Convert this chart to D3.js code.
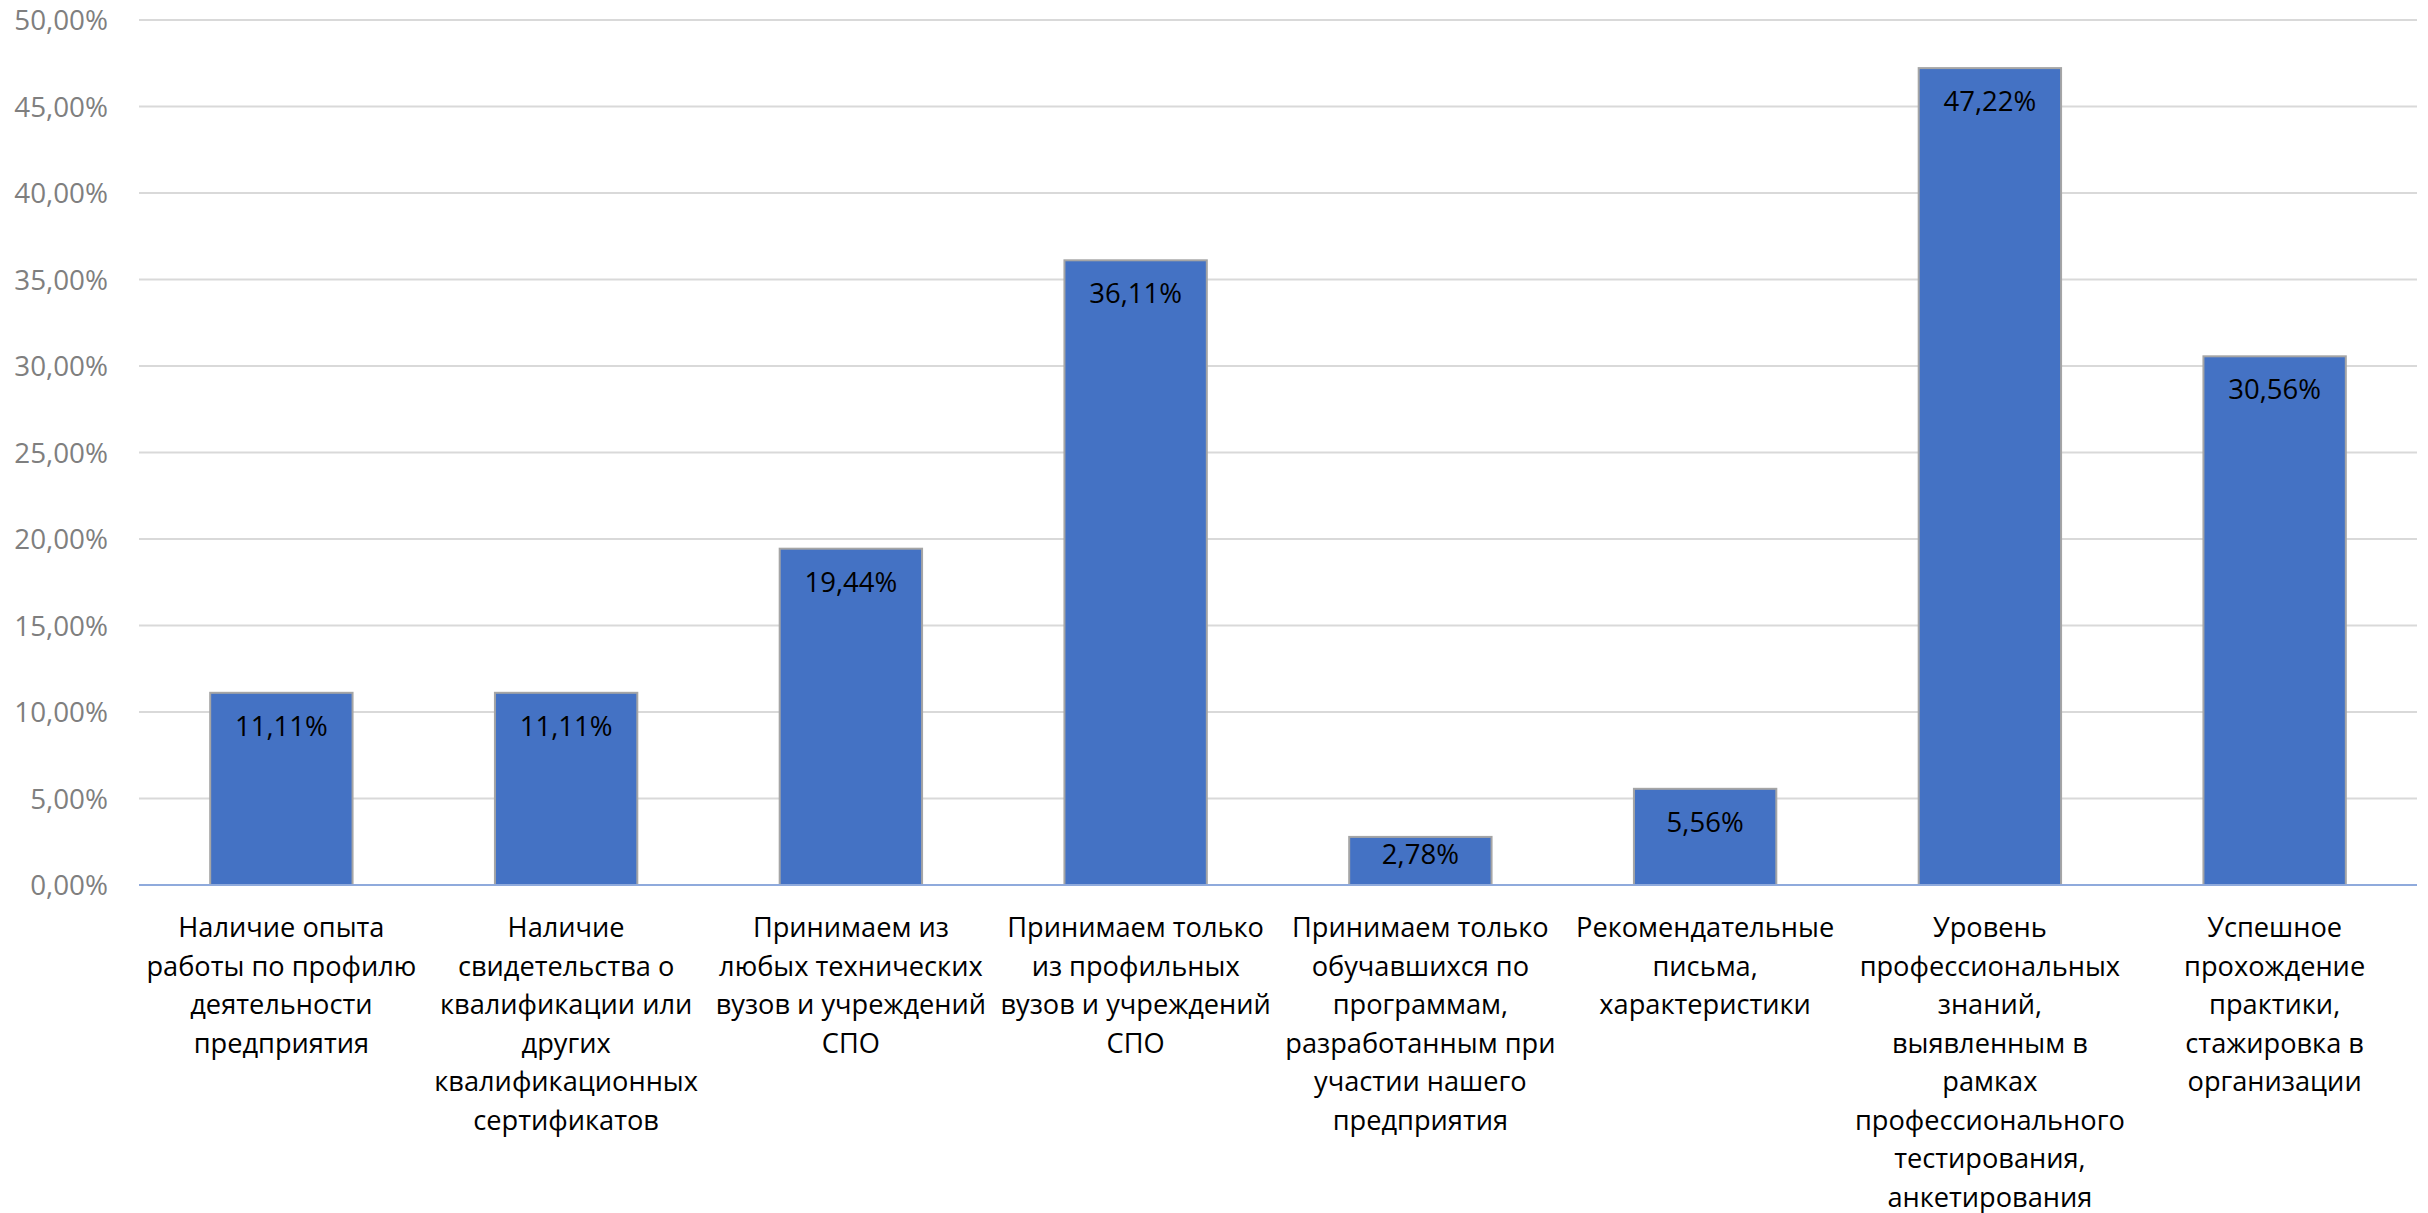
<!DOCTYPE html>
<html><head><meta charset="utf-8">
<script src="https://cdn.jsdelivr.net/npm/d3@7"></script>
<style>html,body{margin:0;padding:0;background:#fff;overflow:hidden}</style>
</head><body>
<svg id="c" width="2428" height="1213"></svg>
<script>
const categories = [
  ["Наличие опыта","работы по профилю","деятельности","предприятия"],
  ["Наличие","свидетельства о","квалификации или","других","квалификационных","сертификатов"],
  ["Принимаем из","любых технических","вузов и учреждений","СПО"],
  ["Принимаем только","из профильных","вузов и учреждений","СПО"],
  ["Принимаем только","обучавшихся по","программам,","разработанным при","участии нашего","предприятия"],
  ["Рекомендательные","письма,","характеристики"],
  ["Уровень","профессиональных","знаний,","выявленным в","рамках","профессионального","тестирования,","анкетирования"],
  ["Успешное","прохождение","практики,","стажировка в","организации"]
];
const values = [11.11, 11.11, 19.44, 36.11, 2.78, 5.56, 47.22, 30.56];
const yTicks = [0, 5, 10, 15, 20, 25, 30, 35, 40, 45, 50];

const font = "'Open Sans', sans-serif";
const fmt = v => v.toFixed(2).replace(".", ",") + "%";
const svg = d3.select("#c");
const pLeft = 139, pRight = 2417, pTop = 20, pBottom = 885;

const x = d3.scaleBand().domain(d3.range(categories.length)).range([pLeft, pRight]).paddingInner(0.5).paddingOuter(0.25);
const y = d3.scaleLinear().domain([0, 50]).range([pBottom, pTop]);

// gridlines
svg.append("g").selectAll("line").data(yTicks.filter(t => t > 0)).join("line")
  .attr("x1", pLeft).attr("x2", pRight)
  .attr("y1", d => y(d)).attr("y2", d => y(d))
  .attr("stroke", "#d9d9d9").attr("stroke-width", 2);

// y axis labels
const yAxis = d3.axisLeft(y).tickValues(yTicks).tickSize(0).tickPadding(0).tickFormat(fmt);
const ya = svg.append("g").attr("transform", `translate(${pLeft - 31},0)`).call(yAxis);
ya.select(".domain").remove();
ya.selectAll("text").attr("font-family", font).attr("font-size", 27.8).attr("fill", "#7f7f7f").attr("dy", "0.35em");

// bars
svg.append("g").selectAll("rect").data(values).join("rect")
  .attr("x", (d, i) => x(i)).attr("width", x.bandwidth())
  .attr("y", d => y(d)).attr("height", d => y(0) - y(d))
  .attr("fill", "#4472c4").attr("stroke", "#a5a5a5").attr("stroke-width", 2);

// baseline
svg.append("line").attr("x1", pLeft).attr("x2", pRight).attr("y1", y(0)).attr("y2", y(0))
  .attr("stroke", "#8faadc").attr("stroke-width", 2);

// data labels
svg.append("g").selectAll("text").data(values).join("text")
  .attr("x", (d, i) => x(i) + x.bandwidth() / 2).attr("y", d => Math.min(y(d) + 43, y(0) - 21))
  .attr("text-anchor", "middle").attr("font-family", font).attr("font-size", 27.5).attr("fill", "#000")
  .text(fmt);

// x labels
const xg = svg.append("g");
categories.forEach((lines, i) => {
  const t = xg.append("text").attr("text-anchor", "middle").attr("font-family", font)
    .attr("font-size", 27.2).attr("fill", "#000");
  lines.forEach((ln, j) => {
    t.append("tspan").attr("x", x(i) + x.bandwidth() / 2).attr("y", 937 + j * 38.5).text(ln);
  });
});
</script>
</body></html>
